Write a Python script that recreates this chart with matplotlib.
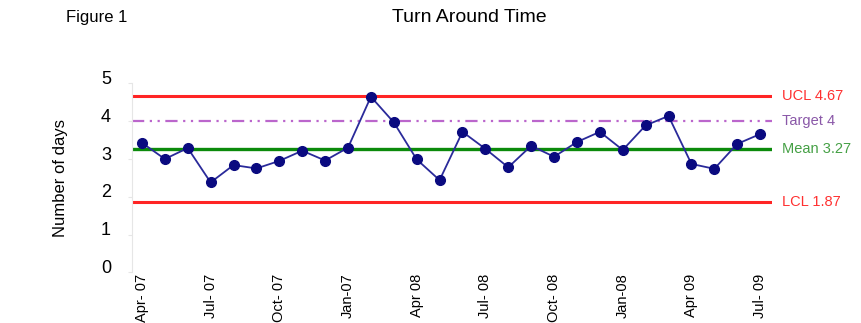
import matplotlib
matplotlib.use("Agg")
import matplotlib.pyplot as plt
import matplotlib.transforms as mtransforms
import numpy as np

plt.rcParams['font.family'] = ['Liberation Sans Narrow', 'Liberation Sans', 'DejaVu Sans']

# monthly turn around time, Apr-07 .. Jul-09
days = [3.43, 3.00, 3.29, 2.38, 2.84, 2.75, 2.95, 3.22, 2.96, 3.30,
        4.65, 3.97, 2.99, 2.44, 3.72, 3.27, 2.78, 3.35, 3.06, 3.45,
        3.72, 3.24, 3.89, 4.14, 2.87, 2.74, 3.40, 3.66]
tick_labels = ['Apr- 07', 'Jul- 07', 'Oct- 07', 'Jan-07', 'Apr 08',
               'Jul- 08', 'Oct- 08', 'Jan-08', 'Apr 09', 'Jul- 09']
ucl = 4.67
target = 4
mean = 3.27
lcl = 1.87

x = np.arange(len(days))

fig = plt.figure(figsize=(8.62, 3.23), dpi=100)
ax = fig.add_axes([0.153, 0.157, 0.7426, 0.5845])

ax.axhline(ucl, color='#ff2424', lw=2.2, zorder=2)
ax.axhline(lcl, color='#ff2424', lw=2.2, zorder=2)
ax.axhline(target, color='#bb66cc', lw=1.6, ls=(0, (5.5, 2.5, 1, 2.5, 1, 2.5)), zorder=2)
ax.axhline(mean, color='#0b8a0b', lw=2.4, zorder=2)
ax.plot(x, days, color='#2a2a9a', lw=1.3, marker='o', ms=7,
        mfc='#0a0a80', mec='#0a0a80', zorder=3)

ax.set_xlim(-0.44, 27.52)
ax.set_ylim(0, 5)
ax.set_yticks(range(6))
ax.set_xticks(x[::3])
ax.set_xticklabels(tick_labels, rotation=90, fontsize=10.5)
ax.tick_params(axis='x', length=0, pad=1)
ax.tick_params(axis='y', length=3, color='#e6e6e6', labelsize=13, pad=12)

# labels sit a little above their ticks in the original
shift = mtransforms.ScaledTranslation(0, 6 / 100, fig.dpi_scale_trans)
for lab in ax.get_yticklabels():
    lab.set_transform(lab.get_transform() + shift)

for s in ['top', 'right', 'bottom']:
    ax.spines[s].set_visible(False)
ax.spines['left'].set_color('#e6e6e6')

ax.set_ylabel('Number of days', fontsize=12, labelpad=24)

# right side labels for the control lines
lab_kw = dict(transform=ax.get_yaxis_transform(), fontsize=10.5, va='center', ha='left')
ax.text(1.016, ucl, 'UCL 4.67', color='#ff3030', **lab_kw)
ax.text(1.016, target, 'Target 4', color='#8a58a8', **lab_kw)
ax.text(1.016, mean, 'Mean 3.27', color='#45a045', **lab_kw)
ax.text(1.016, lcl, 'LCL 1.87', color='#ff3030', **lab_kw)

fig.text(0.545, 0.945, 'Turn Around Time', fontsize=14, ha='center', va='center')
fig.text(0.077, 0.945, 'Figure 1', fontsize=12, ha='left', va='center')

fig.savefig('out.png', dpi=100)
